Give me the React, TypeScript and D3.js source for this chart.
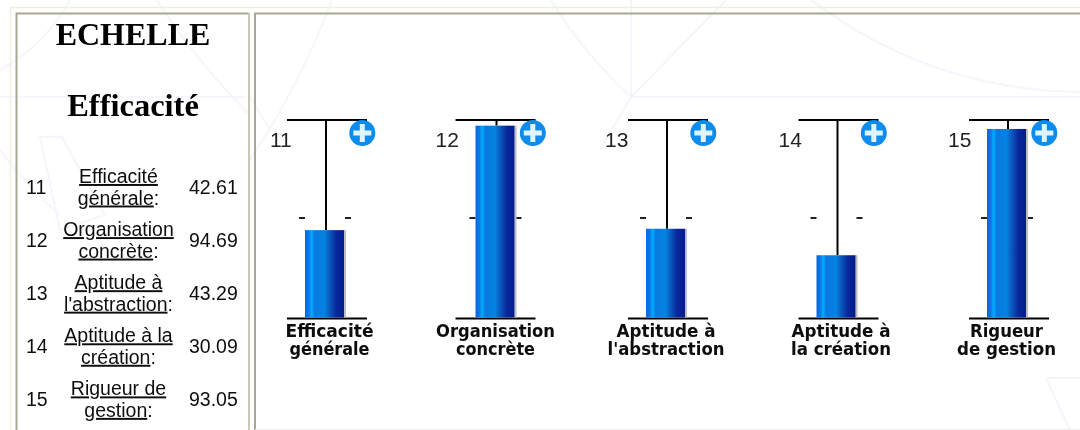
import React from "react";
import * as d3 from "d3";

const ids = ["11", "12", "13", "14", "15"];
const values = [42.61, 94.69, 43.29, 30.09, 93.05];
const tableLabels = [
  ["Efficacité", "générale"],
  ["Organisation", "concrète"],
  ["Aptitude à", "l'abstraction"],
  ["Aptitude à la", "création"],
  ["Rigueur de", "gestion"],
];
const barLabels = [
  ["Efficacité", "générale"],
  ["Organisation", "concrète"],
  ["Aptitude à", "l'abstraction"],
  ["Aptitude à", "la création"],
  ["Rigueur", "de gestion"],
];
const barLabelWidths = [[88, 80], [119, 79], [99, 117], [99, 100], [73, 99]];
const barLabelCentres = [329.5, 495.5, 666, 841, 1006.5];
const axisNudge = [0, -2, 0, 0, 0];
const idOffset = [-35, -40, -41, -38, -39];

const bgPaths = [
  "M70,0 Q45,45 0,70",
  "M157,0 Q195,60 250,115",
  "M0,97 L245,97",
  "M40,137 L62,137 L105,215 L60,230 Z",
  "M0,150 Q30,190 60,215",
  "M332,0 Q300,85 250,160",
  "M551,0 Q585,55 631,97",
  "M631,0 L631,97",
  "M726,0 L631,97 L600,150",
  "M631,97 L1080,97",
  "M811,0 Q930,90 1080,92",
  "M1046,378 L1080,378",
  "M1046,378 L1070,430",
  "M250,97 L270,130",
];

const x = d3.scaleLinear().domain([0, 4]).range([305, 987]);
const y = d3.scaleLinear().domain([0, 100]).range([315.6, 115]);
const baseY = 318.5;
const barW = 39;
const sans = "'Liberation Sans', Arial, sans-serif";
const serif = "'Liberation Serif', 'Times New Roman', serif";

const barStops: [string, string][] = [
  ["0%", "#0a66dc"],
  ["10%", "#0a78e8"],
  ["17%", "#00aefc"],
  ["25%", "#0a78e0"],
  ["50%", "#0484e0"],
  ["62%", "#0a5cc0"],
  ["80%", "#08289c"],
  ["100%", "#041c8c"],
];

export default function App() {
  return (
    <svg
      width={1080}
      height={430}
      style={{ position: "absolute", left: 0, top: 0, display: "block", background: "#fff" }}
    >
      <defs>
        <linearGradient id="bar" x1="0" x2="1" y1="0" y2="0">
          {barStops.map(([o, c]) => (
            <stop key={o} offset={o} stopColor={c} />
          ))}
        </linearGradient>
        <filter id="soft" x="-5%" y="-5%" width="110%" height="110%">
          <feGaussianBlur stdDeviation="0.4" />
        </filter>
      </defs>

      <g fill="none" stroke="#f4f6fb" strokeWidth={2}>
        {bgPaths.map((d) => (
          <path key={d} d={d} />
        ))}
      </g>

      {/* table borders */}
      <g fill="none">
        <path d="M10.5,430 V7.5 H1080" stroke="#f1eddf" strokeWidth={1.5} />
        <path d="M16.5,430 V13.5 H249" stroke="#a9a793" strokeWidth={2} />
        <path d="M249,13 V430" stroke="#c9c7b6" strokeWidth={2} />
        <path d="M255,430 V13.5 H1080" stroke="#a9a793" strokeWidth={2} />
        <path d="M255,429.5 H1080" stroke="#eeeeee" strokeWidth={1} />
      </g>

      <g filter="url(#soft)">
        <text x={133} y={45} textAnchor="middle" fontFamily={serif} fontWeight="bold" fontSize={32}>ECHELLE</text>
        <text x={133} y={116} textAnchor="middle" fontFamily={serif} fontWeight="bold" fontSize={32.5}>Efficacité</text>

        {ids.map((id, i) => {
          const top = 183 + i * 53.1;
          return (
            <g key={id} fontFamily={sans} fontSize={19.5} fill="#111">
              <text x={26} y={top + 11}>{id}</text>
              <text x={118.5} y={top} textAnchor="middle" textDecoration="underline">{tableLabels[i][0]}</text>
              <text x={118.5} y={top + 21.5} textAnchor="middle">
                <tspan textDecoration="underline">{tableLabels[i][1]}</tspan>:
              </text>
              <text x={189} y={top + 11}>{values[i].toFixed(2)}</text>
            </g>
          );
        })}
      </g>

      {ids.map((id, i) => {
        const bx = x(i);
        const axL = bx - 18 + axisNudge[i];
        const cx = bx + 21;
        const top = y(values[i]);
        const iconX = bx + 57.3;
        return (
          <g key={id}>
            <line x1={axL} x2={axL + 80} y1={120} y2={120} stroke="#000" strokeWidth={2} />
            <line x1={axL} x2={axL + 80} y1={baseY} y2={baseY} stroke="#000" strokeWidth={2} />
            <line x1={cx} x2={cx} y1={120} y2={top} stroke="#000" strokeWidth={2} />
            <rect x={bx - 6} y={217} width={6} height={2} fill="#222" />
            <rect x={bx + barW + 1} y={217} width={6} height={2} fill="#222" />
            <rect x={bx + barW} y={top} width={2} height={baseY - top - 1} fill="#bdbdbd" />
            <rect x={bx} y={top} width={barW} height={baseY - top - 1} fill="url(#bar)" />
            <circle cx={iconX} cy={133} r={13} fill="#0c8cec" />
            <path
              d={`M${iconX - 9},${133} H${iconX + 9} M${iconX},${133 - 9} V${133 + 9}`}
              stroke="#dff4ff"
              strokeWidth={5}
            />
            <g filter="url(#soft)">
              <text x={bx + idOffset[i]} y={147} fontFamily={sans} fontSize={21} fill="#222">{id}</text>
              {barLabels[i].map((t, j) => (
                <text
                  key={t}
                  x={barLabelCentres[i]}
                  y={337 + j * 18}
                  textAnchor="middle"
                  fontFamily="'DejaVu Sans Condensed', 'DejaVu Sans', sans-serif"
                  fontWeight="bold"
                  fontSize={17.5}
                  fill="#0a0a0a"
                  textLength={barLabelWidths[i][j]}
                  lengthAdjust="spacingAndGlyphs"
                >
                  {t}
                </text>
              ))}
            </g>
          </g>
        );
      })}
    </svg>
  );
}
